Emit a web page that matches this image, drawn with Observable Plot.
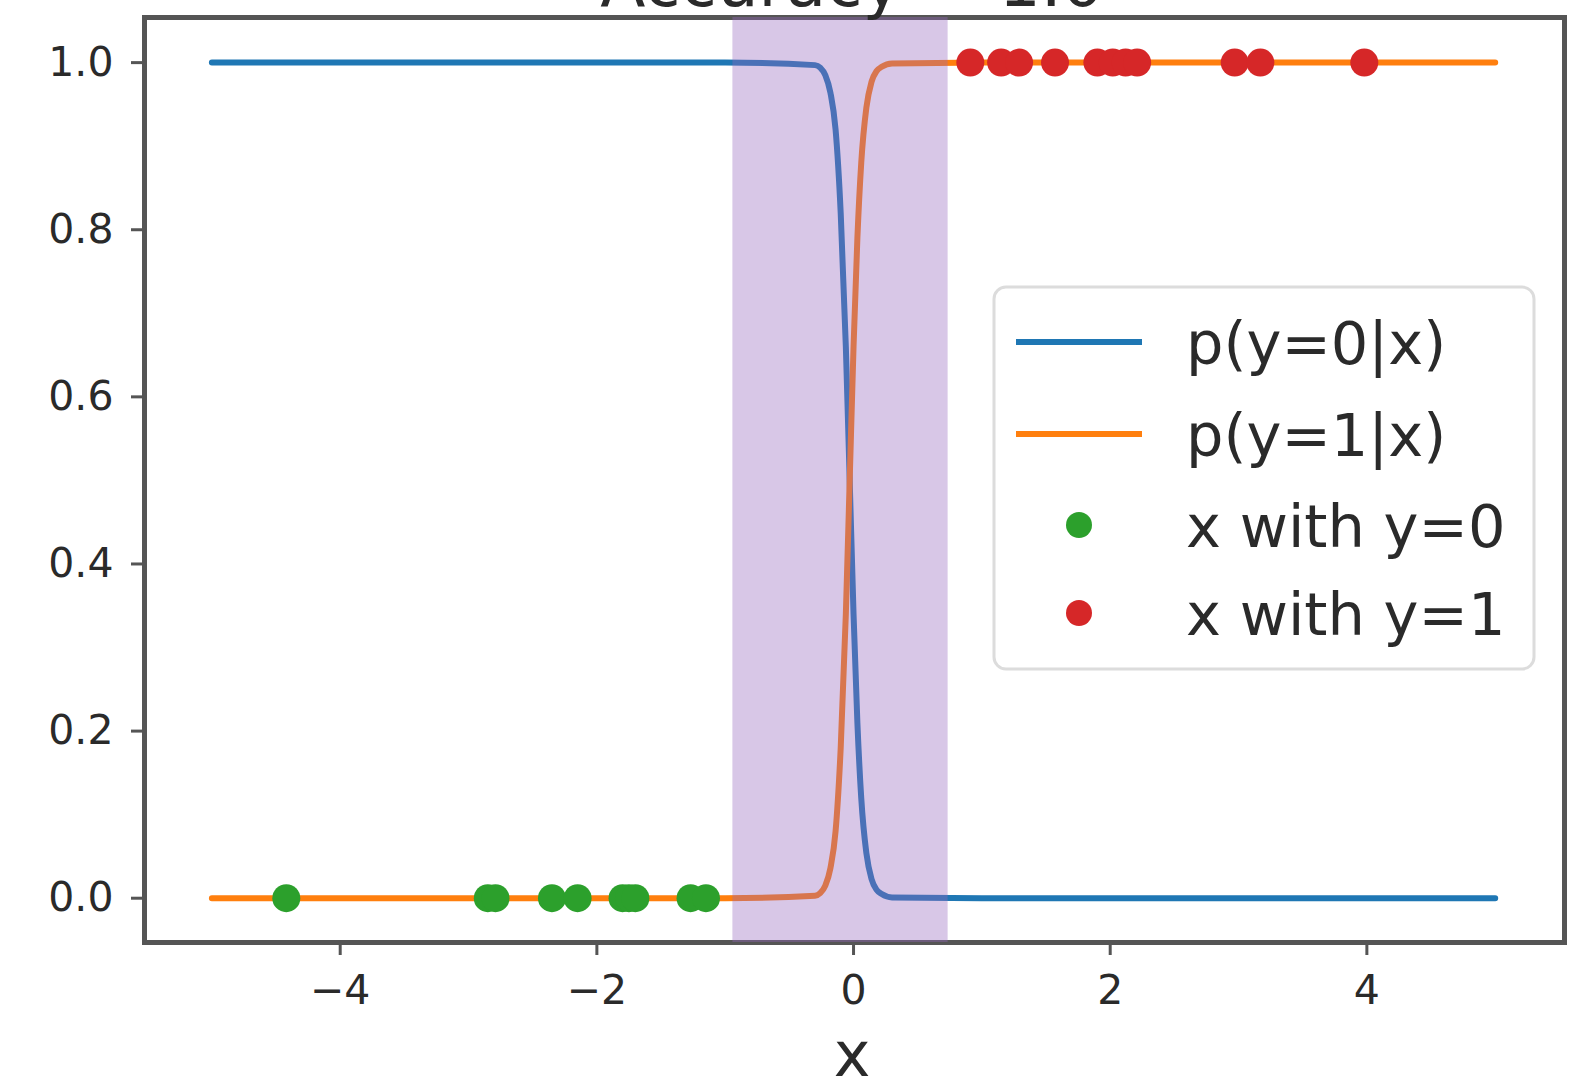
<!DOCTYPE html>
<html>
<head>
<meta charset="utf-8">
<script src="https://cdn.jsdelivr.net/npm/d3@7"></script>
<script src="https://cdn.jsdelivr.net/npm/@observablehq/plot@0.6"></script>
<style>
  body { margin: 0; background: #fff; }
  #wrap { position: relative; width: 1577px; height: 1085px; overflow: hidden; font-family: "DejaVu Sans", sans-serif; }
  #overlay { position: absolute; left: 0; top: 0; pointer-events: none; }
</style>
</head>
<body>
<div id="wrap"></div>
<script>
// ---- data ----
const titleText = "Accuracy = 1.0";
const xLabel = "x";
const xTicks = [-4, -2, 0, 2, 4];
const yTicks = [0, 0.2, 0.4, 0.6, 0.8, 1.0];

const curveX = [-5, -1, -0.3, -0.26, -0.22, -0.18, -0.14, -0.1, -0.06, -0.03, 0, 0.03, 0.06, 0.1, 0.14, 0.18, 0.22, 0.3, 1, 5];
const pY0    = [1, 1, 0.997, 0.994, 0.985, 0.964, 0.92, 0.82, 0.66, 0.5, 0.34, 0.21, 0.12, 0.054, 0.023, 0.01, 0.005, 0.001, 0, 0];
const pY1    = [0, 0, 0.003, 0.006, 0.015, 0.036, 0.08, 0.18, 0.34, 0.5, 0.66, 0.79, 0.88, 0.946, 0.977, 0.99, 0.995, 0.999, 1, 1];

const xClass0 = [-4.42, -2.85, -2.79, -2.35, -2.15, -1.80, -1.75, -1.70, -1.27, -1.15];
const xClass1 = [0.91, 1.15, 1.29, 1.57, 1.90, 2.02, 2.12, 2.21, 2.97, 3.17, 3.98];

const band = [-0.94, 0.737];

const seriesNames = ["p(y=0|x)", "p(y=1|x)", "x with y=0", "x with y=1"];
const seriesColors = ["#1f77b4", "#ff7f0e", "#2ca02c", "#d62728"];

// ---- tables ----
const curve = curveX.map((x, i) => ({x, p0: pY0[i], p1: pY1[i]}));
const pts0 = xClass0.map(x => ({x, y: 0}));
const pts1 = xClass1.map(x => ({x, y: 1}));

const textColor = "#2a2a2a";
const spine = "#555555";

const chart = Plot.plot({
  width: 1577,
  height: 1085,
  marginLeft: 144,
  marginRight: 13,
  marginTop: 17,
  marginBottom: 143,
  style: {fontFamily: "DejaVu Sans, sans-serif", fontSize: "41px", color: textColor, background: "white", overflow: "visible"},
  x: {domain: [-5.525, 5.54]},
  y: {domain: [-0.053, 1.054]},
  marks: [
    Plot.axisX({ticks: xTicks, tickSize: 13, tickPadding: 19, stroke: spine, strokeWidth: 3, label: null, fill: textColor}),
    Plot.axisY({ticks: yTicks, tickSize: 13, tickPadding: 18, stroke: spine, strokeWidth: 3, label: null, fill: textColor, tickFormat: d3.format(".1f")}),
    Plot.frame({stroke: spine, strokeWidth: 5}),
    Plot.line(curve, {x: "x", y: "p0", stroke: seriesColors[0], strokeWidth: 6, curve: "monotone-x"}),
    Plot.line(curve, {x: "x", y: "p1", stroke: seriesColors[1], strokeWidth: 6, curve: "monotone-x"}),
    Plot.dot(pts0, {x: "x", y: "y", r: 14, fill: seriesColors[2], stroke: null}),
    Plot.dot(pts1, {x: "x", y: "y", r: 14, fill: seriesColors[3], stroke: null}),
    Plot.rect([band], {x1: d => d[0], x2: d => d[1], fill: "#9467bd", fillOpacity: 0.37})
  ]
});

const wrap = document.getElementById("wrap");
wrap.appendChild(chart);

// ---- overlay: title (clipped at the top as in the reference), x label, legend ----
const W = 1577, H = 1085;
const svg = d3.select(wrap).append("svg")
  .attr("id", "overlay").attr("width", W).attr("height", H)
  .style("font-family", "DejaVu Sans, sans-serif");

svg.append("text").attr("x", 852).attr("y", 6).attr("text-anchor", "middle")
  .attr("font-size", 66).attr("fill", textColor).text(titleText);

svg.append("text").attr("x", 852).attr("y", 1076).attr("text-anchor", "middle")
  .attr("font-size", 62).attr("fill", textColor).text(xLabel);

const lg = svg.append("g");
lg.append("rect").attr("x", 994).attr("y", 287).attr("width", 540).attr("height", 382)
  .attr("rx", 12).attr("fill", "white").attr("fill-opacity", 0.8)
  .attr("stroke", "#dcdcdc").attr("stroke-width", 3);
const rowY = [342, 434, 525, 613];
seriesNames.forEach((name, i) => {
  const cy = rowY[i];
  if (i < 2) {
    lg.append("line").attr("x1", 1016).attr("x2", 1142).attr("y1", cy).attr("y2", cy)
      .attr("stroke", seriesColors[i]).attr("stroke-width", 6);
  } else {
    lg.append("circle").attr("cx", 1079).attr("cy", cy).attr("r", 13).attr("fill", seriesColors[i]);
  }
  lg.append("text").attr("x", 1186).attr("y", cy + 22).attr("font-size", 59)
    .attr("fill", textColor).text(name);
});
</script>
</body>
</html>
